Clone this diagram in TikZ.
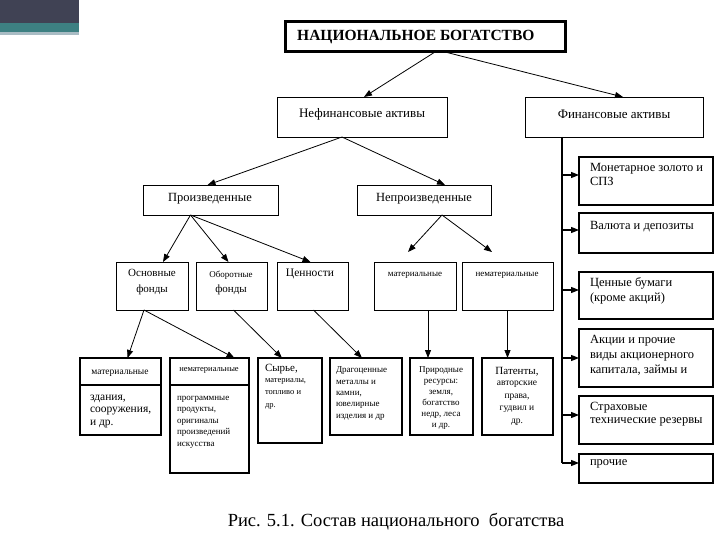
\documentclass[tikz,border=0pt]{standalone}
\usepackage{fontspec}
\setmainfont{Liberation Serif}
\usetikzlibrary{arrows.meta}
\newcommand\fs[2]{\fontsize{#1bp}{#2bp}\selectfont}
\newcommand\mkbox[6]{\node[#1, minimum width={(#5-#3)*1bp}, minimum height={(#6-#4)*1bp}] (#2) at ({(#3+#5)/2},{(#4+#6)/2}) {};}
\definecolor{decodark}{HTML}{404254}
\definecolor{decoteal}{HTML}{3D8082}
\definecolor{decolight}{HTML}{A9BCC4}
\tikzset{
  box/.style={draw, rectangle, inner sep=0pt, outer sep=0pt, line width=0.8bp},
  tbox/.style={box, line width=1.7bp},
  ttl/.style={box, line width=3bp},
  rbox/.style={box, line width=1.3bp},
  arr/.style={-{Triangle[length=8bp,width=6bp]}, line width=0.8bp},
  t/.style={inner sep=0pt, outer sep=0pt, align=center, anchor=north},
  tl/.style={inner sep=0pt, outer sep=0pt, align=left, anchor=north west},
}
\begin{document}
\begin{tikzpicture}[x=1bp,y=-1bp]
\useasboundingbox (0,0) rectangle (720,540);
% decoration
\fill[decodark] (0,0) rectangle (79,23);
\fill[decoteal] (0,23) rectangle (79,32);
\fill[decolight] (0,32) rectangle (79,35);

% boxes
\mkbox{ttl}{T}{285}{22}{565}{52}
\mkbox{box}{NF}{277}{97}{447}{137}
\mkbox{box}{FA}{525}{97}{703}{137}
\mkbox{box}{P}{143}{185}{278}{215}
\mkbox{box}{NP}{357}{185}{491}{215}
\mkbox{box}{Osn}{116}{262}{188}{310}
\mkbox{box}{Obor}{196}{262}{267}{310}
\mkbox{box}{Cen}{277}{262}{348}{310}
\mkbox{box}{MatN}{374}{262}{456}{310}
\mkbox{box}{NematN}{462}{262}{553}{310}
\mkbox{tbox}{Mat}{80}{358}{161}{435}
\mkbox{tbox}{Nemat}{170}{358}{249}{473}
\mkbox{tbox}{Syr}{258}{358}{322}{443}
\mkbox{tbox}{Drag}{330}{358}{402}{435}
\mkbox{tbox}{Prir}{410}{358}{473}{435}
\mkbox{tbox}{Pat}{482}{358}{553}{435}
\mkbox{rbox}{F1}{579}{157}{713}{205}
\mkbox{rbox}{F2}{579}{213}{713}{253}
\mkbox{rbox}{F3}{579}{272}{713}{319}
\mkbox{rbox}{F4}{579}{329}{713}{387}
\mkbox{rbox}{F5}{579}{396}{713}{444}
\mkbox{rbox}{F6}{579}{454}{713}{483}

% dividers
\draw[line width=1.2bp] (Mat.west |- 0,385) -- (Mat.east |- 0,385);
\draw[line width=1.2bp] (Nemat.west |- 0,385) -- (Nemat.east |- 0,385);

% texts
\node[inner sep=0pt, anchor=west, font=\fs{15.5}{17}\bfseries] (tT) at (297,37) {НАЦИОНАЛЬНОЕ БОГАТСТВО};
\node[inner sep=0pt, font=\fs{13}{15}] (tNF) at (362,114) {Нефинансовые активы};
\node[inner sep=0pt, font=\fs{13}{15}] (tFA) at (614,114) {Финансовые активы};
\node[inner sep=0pt, font=\fs{12.5}{15}] (tP) at (210,199) {Произведенные};
\node[inner sep=0pt, font=\fs{12.5}{15}] (tNP) at (424,199) {Непроизведенные};

\node[t, font=\fs{11}{16}] (tOsn) at (152,269) {Основные\\фонды};
\node[t, font=\fs{9}{11}] (tObor1) at (231,271) {Оборотные};
\node[t, font=\fs{11}{13}] (tObor2) at (231,285) {фонды};
\node[t, font=\fs{11.5}{13}] (tCen) at (310,269) {Ценности};
\node[t, font=\fs{9}{11}] (tMatN) at (415,272) {материальные};
\node[t, font=\fs{9}{11}] (tNematN) at (507,272) {нематериальные};

\node[t, font=\fs{9.5}{11}] (tMat1) at (120,370) {материальные};
\node[tl, font=\fs{11.5}{12.5}] (tMat2) at (90,395) {здания,\\сооружения,\\и др.};
\node[t, font=\fs{8.5}{10}] (tNemat1) at (209,367) {нематериальные};
\node[tl, font=\fs{9}{11.5}] (tNemat2) at (177,396) {программные\\продукты,\\оригиналы\\произведений\\искусства};
\node[tl, font=\fs{11}{12}] (tSyr1) at (265,364) {Сырье,};
\node[tl, font=\fs{8.5}{12.5}] (tSyr2) at (265,378) {материалы,\\топливо и\\др.};
\node[tl, font=\fs{9}{11.3}] (tDrag) at (336,367) {Драгоценные\\металлы и\\камни,\\ювелирные\\изделия и др};
\node[t, font=\fs{9}{11}] (tPrir) at (441,367) {Природные\\ресурсы:\\земля,\\богатство\\недр, леса\\и др.};
\node[t, font=\fs{11}{12}] (tPat1) at (517,367) {Патенты,};
\node[t, font=\fs{9.5}{12.7}] (tPat2) at (517,381) {авторские\\права,\\гудвил и\\др.};

\node[tl, font=\fs{12.5}{14}] (tF1) at (590,163) {Монетарное золото и\\СПЗ};
\node[tl, font=\fs{12.5}{14}] (tF2) at (590,221) {Валюта и депозиты};
\node[tl, font=\fs{12.5}{15}] (tF3) at (590,278) {Ценные бумаги\\(кроме акций)};
\node[tl, font=\fs{12.5}{15}] (tF4) at (590,335) {Акции и прочие\\виды акционерного\\капитала, займы и};
\node[tl, font=\fs{12.5}{13.5}] (tF5) at (590,402) {Страховые\\технические резервы};
\node[tl, font=\fs{12.5}{14}] (tF6) at (590,460) {прочие};

\node[inner sep=0pt, font=\fs{18.5}{20}] (cap) at (396,522) {Рис. 5.1. Состав национального\ \ богатства};

% connectors
\draw[arr] ([xshift=10bp]T.south) -- ([xshift=2bp]NF.north);
\draw[arr] ([xshift=20bp]T.south) -- ([xshift=9bp]FA.north);
\draw[arr] ([xshift=-20bp]NF.south) -- ([xshift=-3bp]P.north);
\draw[arr] ([xshift=-20bp]NF.south) -- ([xshift=21bp]NP.north);
\draw[arr] ([xshift=-20bp]P.south) -- ([xshift=11bp]Osn.north);
\draw[arr] ([xshift=-20bp]P.south) -- ([xshift=-3bp]Obor.north);
\draw[arr] ([xshift=-20bp]P.south) -- ([xshift=-2bp]Cen.north);
\coordinate (npL) at (408,252);
\coordinate (npR) at (492,252);
\draw[arr] ([xshift=18bp]NP.south) -- (npL);
\draw[arr] ([xshift=18bp]NP.south) -- (npR);
\draw[arr] ([xshift=-8bp]Osn.south) -- ([xshift=7bp]Mat.north);
\draw[arr] ([xshift=-8bp]Osn.south) -- ([xshift=25bp]Nemat.north);
\draw[arr] ([xshift=2bp]Obor.south) -- ([xshift=-8bp]Syr.north);
\draw[arr] ([xshift=1bp]Cen.south) -- ([xshift=-4bp]Drag.north);
\draw[arr] ([xshift=13bp]MatN.south) -- ([xshift=13bp]MatN.south |- Prir.north);
\draw[arr] (NematN.south) -- (NematN.south |- Pat.north);

% financial spine
\coordinate (spTop) at ([xshift=37bp]FA.south west);
\coordinate (spBot) at (spTop |- 0,463);
\draw[line width=1.5bp] (spTop) -- (spBot);
\draw[arr, line width=1.2bp] (spBot) -- (F6.west |- spBot);
\draw[arr, line width=1.2bp] (spTop |- 0,175) -- (F1.west |- 0,175);
\draw[arr, line width=1.2bp] (spTop |- 0,230) -- (F2.west |- 0,230);
\draw[arr, line width=1.2bp] (spTop |- 0,290) -- (F3.west |- 0,290);
\draw[arr, line width=1.2bp] (spTop |- 0,358) -- (F4.west |- 0,358);
\draw[arr, line width=1.2bp] (spTop |- 0,415) -- (F5.west |- 0,415);
\end{tikzpicture}
\end{document}
